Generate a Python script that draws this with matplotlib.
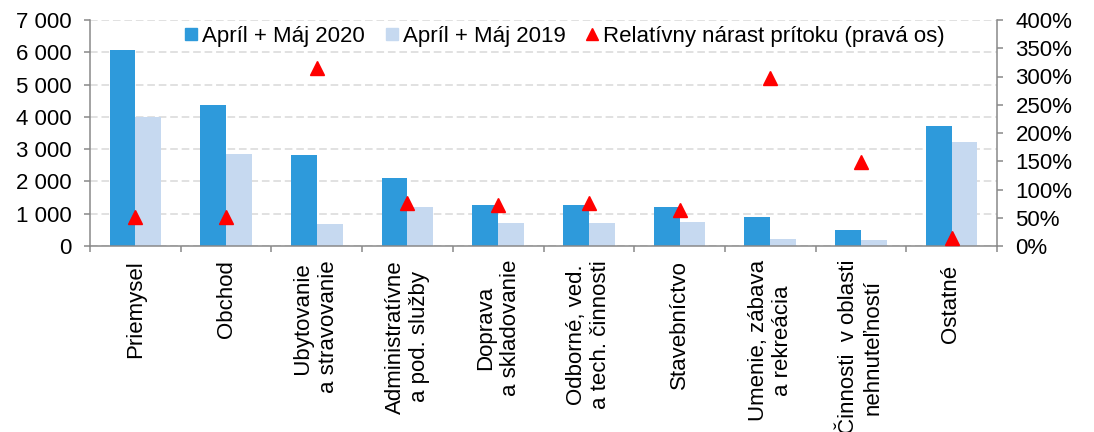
import matplotlib
matplotlib.use("Agg")
import matplotlib.pyplot as plt
from matplotlib.lines import Line2D
from matplotlib.ticker import FuncFormatter
import numpy as np

plt.rcParams['font.family'] = ['Liberation Sans', 'DejaVu Sans']

# data
categories = ["Priemysel", "Obchod", "  Ubytovanie\na stravovanie", "Administratívne\na pod. služby",
              "Doprava\na skladovanie", "Odborné, ved.\na tech. činnosti", "Stavebníctvo",
              "Umenie, zábava\na rekreácia", "Činnosti  v oblasti\nnehnuteľností", "Ostatné "]
inflow_2020 = [6070, 4380, 2810, 2105, 1260, 1260, 1220, 900, 490, 3710]
inflow_2019 = [3990, 2860, 680, 1200, 715, 705, 735, 220, 185, 3210]
growth = [0.52, 0.52, 3.145, 0.755, 0.73, 0.76, 0.64, 2.98, 1.49, 0.15]

c2020 = "#2E9ADB"
c2019 = "#C6D9F0"
cgrid = "#D9D9D9"
cax = "#898989"
fs = 16

fig = plt.figure(figsize=(10.94, 4.32), dpi=100)
ax = fig.add_axes([90 / 1094, 1 - 246 / 432, 907 / 1094, 226 / 432])
ax2 = ax.twinx()

x = np.arange(len(categories))
w = 0.285
ax.bar(x - w / 2, inflow_2020, w, color=c2020, zorder=2)
ax.bar(x + w / 2, inflow_2019, w, color=c2019, zorder=2)
ax2.plot(x, growth, linestyle="none", marker="^", ms=10.5, color="#FF0000", zorder=3)

ax.set_xlim(-0.5, len(categories) - 0.5)
ax.set_ylim(0, 7000)
ax2.set_ylim(0, 4)
ax.set_yticks(np.arange(0, 7001, 1000))
ax2.set_yticks(np.arange(0, 4.01, 0.5))
ax.yaxis.set_major_formatter(FuncFormatter(lambda v, p: f"{int(v):,}".replace(",", " ")))
ax2.yaxis.set_major_formatter(FuncFormatter(lambda v, p: f"{int(round(v * 100))}%"))

ax.set_xticks(np.arange(-0.5, len(categories), 1.0))
ax.set_xticklabels([])
ax.set_xticks(x, minor=True)
ax.set_xticklabels(categories, minor=True, rotation=90, ha="center", va="top",
                   multialignment="center", fontsize=fs)
ax.tick_params(axis="x", which="minor", length=0, pad=10)
ax.tick_params(axis="x", which="major", length=4, width=1.1, color=cax)
ax.tick_params(axis="y", length=4.3, width=1.1, color=cax, labelsize=fs, pad=9)
ax2.tick_params(axis="y", length=4.3, width=1.1, color=cax, labelsize=fs, pad=9)

ax.yaxis.grid(True, color=cgrid, linestyle=(0, (5, 2.5)), linewidth=1.1, zorder=0)
ax.set_axisbelow(True)

for s in ["top", "right"]:
    ax.spines[s].set_visible(False)
for s in ["top", "left", "bottom"]:
    ax2.spines[s].set_visible(False)
for s in ["left", "bottom"]:
    ax.spines[s].set_color(cax)
    ax.spines[s].set_linewidth(1.1)
ax2.spines["right"].set_color(cax)
ax2.spines["right"].set_linewidth(1.1)

handles = [
    Line2D([], [], linestyle="none", marker="s", ms=8.6, color=c2020),
    Line2D([], [], linestyle="none", marker="s", ms=8.6, color=c2019),
    Line2D([], [], linestyle="none", marker="^", ms=9, color="#FF0000"),
]
labels = ["Apríl + Máj 2020", "Apríl + Máj 2019", "Relatívny nárast prítoku (pravá os)"]
ax2.legend(handles, labels, loc="center left", bbox_to_anchor=(0.103, 0.926), ncol=3,
           frameon=False, fontsize=fs, borderpad=0, borderaxespad=0,
           handlelength=0.7, handletextpad=0.15, columnspacing=0.85)

fig.savefig("out.png", dpi=100)
